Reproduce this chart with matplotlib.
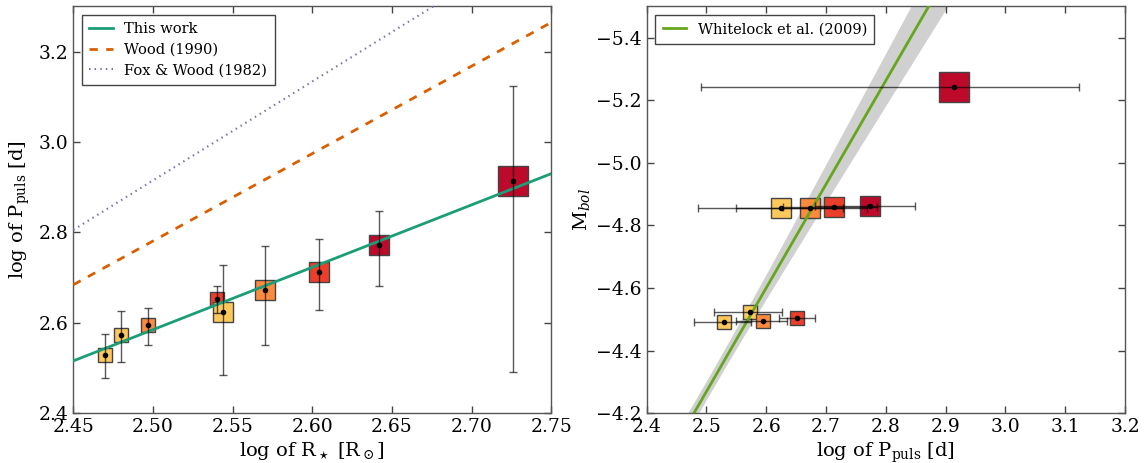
import matplotlib
matplotlib.use('Agg')
import matplotlib.pyplot as plt
from matplotlib.ticker import FuncFormatter
import numpy as np

plt.rcParams['font.family'] = 'DejaVu Serif'
plt.rcParams['mathtext.fontset'] = 'dejavuserif'

# Data: one entry per star.
log_r = [2.470, 2.480, 2.497, 2.540, 2.544, 2.570, 2.604, 2.642, 2.726]
log_p = [2.529, 2.573, 2.595, 2.652, 2.624, 2.673, 2.713, 2.773, 2.914]
log_p_err_lo = [0.050, 0.060, 0.045, 0.031, 0.139, 0.123, 0.085, 0.091, 0.423]
log_p_err_hi = [0.046, 0.054, 0.039, 0.030, 0.104, 0.096, 0.072, 0.075, 0.209]
m_bol = [-4.492, -4.523, -4.496, -4.506, -4.855, -4.855, -4.858, -4.863, -5.243]
colors = ['#fec85b', '#fec85b', '#fd8a3d', '#ec3f2b', '#fec85b',
          '#fd8a3d', '#ec3f2b', '#bd0a2b', '#bd0a2b']
sizes = [10.5, 10.5, 10.5, 10.5, 15, 15, 15, 15, 21]

# Period-radius relations (slope, intercept).
this_work = (1.38, -0.865)
wood_1990 = (1.934, -2.054)
fox_wood_1982 = (2.188, -2.555)

# Whitelock et al. (2009) PL relation: slope, zero point at logP = 2.5, errors.
wl_slope, wl_zp, wl_slope_err, wl_zp_err = -3.31, -4.27, 0.26, 0.03


def fmt(decimals):
    """Tick formatter with a real minus sign."""
    return FuncFormatter(lambda v, pos: ('%.*f' % (decimals, v)).replace('-', '\u2212'))


def style_axes(ax):
    """Old style frame: ticks inside on all four sides."""
    ax.tick_params(direction='in', top=True, right=True, labelsize=13.5,
                   length=5, width=1, color='#444444', pad=3.5)
    for spine in ax.spines.values():
        spine.set_color('#555555')
        spine.set_linewidth(1)


fig = plt.figure(figsize=(11.44, 4.63), dpi=100)
ax1 = fig.add_axes([0.0641, 0.1073, 0.4178, 0.8790])
ax2 = fig.add_axes([0.5653, 0.1073, 0.4181, 0.8790])

# Left panel: log P versus log R.
xs = np.array([2.45, 2.75])
ax1.plot(xs, this_work[0] * xs + this_work[1], color='#1b9e77', lw=2,
         label='This work', zorder=3)
ax1.plot(xs, wood_1990[0] * xs + wood_1990[1], color='#d95f02', lw=2,
         ls=(0, (3, 3)), label='Wood (1990)', zorder=3)
ax1.plot(xs, fox_wood_1982[0] * xs + fox_wood_1982[1], color='#7570b3', lw=1.5,
         ls=(0, (0.7, 2)), label='Fox & Wood (1982)', zorder=3)

for i in range(len(log_r)):
    ax1.plot(log_r[i], log_p[i], 's', ms=sizes[i], mfc=colors[i],
             mec='#444444', mew=1, zorder=2)
ax1.errorbar(log_r, log_p, yerr=[log_p_err_lo, log_p_err_hi], fmt='none',
             ecolor='black', elinewidth=1, capsize=3, capthick=1, alpha=0.65, zorder=4)
ax1.plot(log_r, log_p, 'o', color='black', ms=3, zorder=5)

ax1.set_xlim(2.45, 2.75)
ax1.set_ylim(2.4, 3.3)
ax1.set_xticks(np.arange(2.45, 2.751, 0.05))
ax1.set_yticks([2.4, 2.6, 2.8, 3.0, 3.2])
ax1.xaxis.set_major_formatter(fmt(2))
ax1.yaxis.set_major_formatter(fmt(1))
ax1.set_xlabel(r'log of R$_\star$ [R$_\odot$]', fontsize=14, labelpad=3)
ax1.set_ylabel(r'log of P$_\mathrm{puls}$ [d]', fontsize=14, labelpad=5)
style_axes(ax1)
leg1 = ax1.legend(loc='upper left', fontsize=10.5, fancybox=False, framealpha=1,
                  handlelength=1.6, borderpad=0.5, labelspacing=0.45,
                  borderaxespad=0.6)
leg1.get_frame().set_edgecolor('#444444')

# Right panel: M_bol versus log P.
xp = np.linspace(2.4, 3.2, 200)
wl_line = wl_slope * (xp - 2.5) + wl_zp
wl_band = np.sqrt(wl_zp_err ** 2 + (wl_slope_err * (xp - 2.5)) ** 2)
ax2.fill_between(xp, wl_line - wl_band, wl_line + wl_band, color='#d0d0d0',
                 lw=0, zorder=1)
ax2.plot(xp, wl_line, color='#66a61e', lw=2, label='Whitelock et al. (2009)', zorder=3)

for i in range(len(log_p)):
    ax2.plot(log_p[i], m_bol[i], 's', ms=sizes[i], mfc=colors[i],
             mec='#444444', mew=1, zorder=2)
ax2.errorbar(log_p, m_bol, xerr=[log_p_err_lo, log_p_err_hi], fmt='none',
             ecolor='black', elinewidth=1, capsize=3, capthick=1, alpha=0.65, zorder=4)
ax2.plot(log_p, m_bol, 'o', color='black', ms=3, zorder=5)

ax2.set_xlim(2.4, 3.2)
ax2.set_ylim(-4.2, -5.5)
ax2.set_xticks(np.arange(2.4, 3.21, 0.1))
ax2.set_yticks([-4.2, -4.4, -4.6, -4.8, -5.0, -5.2, -5.4])
ax2.xaxis.set_major_formatter(fmt(1))
ax2.yaxis.set_major_formatter(fmt(1))
ax2.set_xlabel(r'log of P$_\mathrm{puls}$ [d]', fontsize=14, labelpad=3)
ax2.set_ylabel(r'M$_{bol}$', fontsize=14, labelpad=3)
style_axes(ax2)
leg2 = ax2.legend(loc='upper left', fontsize=10.5, fancybox=False, framealpha=1,
                  handlelength=1.6, borderpad=0.5, borderaxespad=0.6)
leg2.get_frame().set_edgecolor('#444444')

fig.savefig('out.png', dpi=100)
